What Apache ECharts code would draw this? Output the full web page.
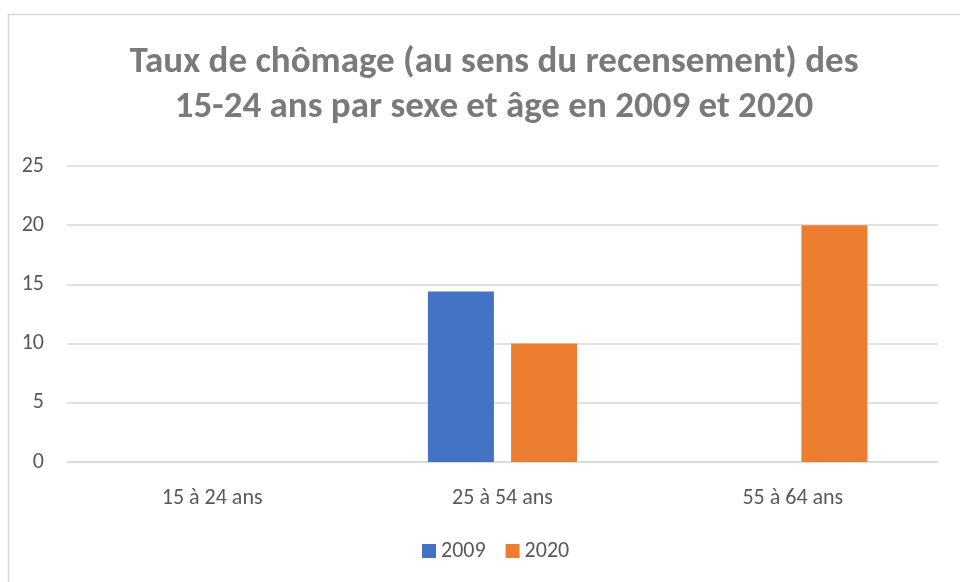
<!DOCTYPE html>
<html>
<head>
<meta charset="utf-8">
<script src="https://cdn.jsdelivr.net/npm/echarts@6/dist/echarts.min.js"></script>
<style>
  html, body { margin: 0; padding: 0; background: #fff; }
  #chart { width: 960px; height: 582px; }
</style>
</head>
<body>
<div id="chart"></div>
<script>
// données du graphique
const categories = ['15 à 24 ans', '25 à 54 ans', '55 à 64 ans'];
const values2009 = [null, 14.4, null];
const values2020 = [null, 10, 20];
const seriesNames = ['2009', '2020'];

const chart = echarts.init(document.getElementById('chart'));
const textColor = '#595959';
const font = 'Calibri, Carlito, "Open Sans", sans-serif';

chart.setOption({
    animation: false,
    title: {
        text: 'Taux de chômage (au sens du recensement) des\n15-24 ans par sexe et âge en 2009 et 2020',
        left: 489,
        textAlign: 'center',
        top: 35,
        textStyle: {
            fontFamily: font,
            fontSize: 37,
            fontWeight: 'bold',
            color: '#7a7a7a',
            lineHeight: 45
        }
    },
    graphic: [{
        type: 'rect',
        shape: { x: 8.5, y: 14.5, width: 1000, height: 1000 },
        style: { fill: 'none', stroke: '#d9d9d9', lineWidth: 1.5 },
        silent: true
    }],
    legend: {
        data: seriesNames,
        bottom: 15,
        left: 417,
        itemWidth: 14,
        itemHeight: 14,
        itemGap: 20,
        icon: 'rect',
        textStyle: { fontFamily: font, fontSize: 22, color: textColor }
    },
    grid: { left: 67, right: 22, top: 166, bottom: 120 },
    xAxis: {
        type: 'category',
        data: categories,
        axisLine: { lineStyle: { color: '#d9d9d9', width: 1.5 } },
        axisTick: { show: false },
        axisLabel: { fontFamily: font, fontSize: 22, color: textColor, margin: 25 }
    },
    yAxis: {
        type: 'value',
        min: 0,
        max: 25,
        interval: 5,
        axisLine: { show: false },
        axisTick: { show: false },
        splitLine: { lineStyle: { color: '#d9d9d9', width: 1.5 } },
        axisLabel: { fontFamily: font, fontSize: 22, color: textColor, margin: 23 }
    },
    series: [{
        name: seriesNames[0],
        type: 'bar',
        data: values2009,
        barWidth: 66,
        barGap: '26%',
        itemStyle: { color: '#4472c4' }
    }, {
        name: seriesNames[1],
        type: 'bar',
        data: values2020,
        barWidth: 66,
        itemStyle: { color: '#ed7d31' }
    }]
});
</script>
</body>
</html>
